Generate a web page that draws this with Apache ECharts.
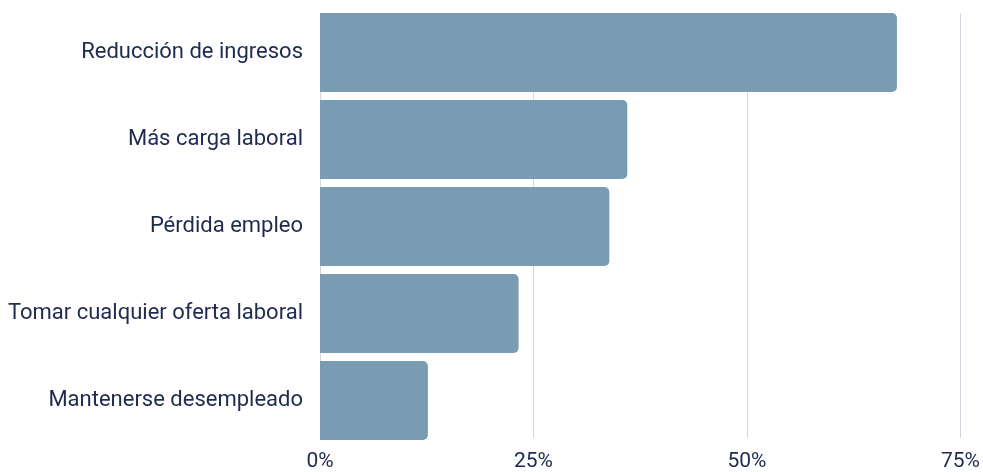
<!DOCTYPE html>
<html><head><meta charset="utf-8">
<script src="https://cdn.jsdelivr.net/npm/echarts@6/dist/echarts.min.js"></script>
<style>html,body{margin:0;padding:0;background:#fff}#c{width:983px;height:472px}</style>
</head><body><div id="c"></div>
<script>
const categories = ["Reducción de ingresos","Más carga laboral","Pérdida empleo","Tomar cualquier oferta laboral","Mantenerse desempleado"];
const values = [67.4, 35.9, 33.8, 23.2, 12.6];
const tickValues = [0, 25, 50, 75];
const txt = '#1e2b4f';
const chart = echarts.init(document.getElementById('c'));
chart.setOption({
  animation:false,
  grid:[
    {left:320,right:21,top:13,bottom:33,containLabel:false},
    {left:320,right:21,top:9,bottom:28,containLabel:false}
  ],
  xAxis:[
    {gridIndex:0,type:'value',min:0,max:75,interval:25,
      axisLine:{show:false},axisTick:{show:false},
      splitLine:{show:true,lineStyle:{color:'#d4d6e4',width:1}},
      axisLabel:{formatter:v=>v+'%',color:txt,fontFamily:'Roboto',fontSize:21,margin:13}},
    {gridIndex:1,type:'value',min:0,max:75,show:false,splitLine:{show:false}}
  ],
  yAxis:[
    {gridIndex:0,type:'category',data:categories,show:false},
    {gridIndex:1,type:'category',data:categories,inverse:true,
      axisLine:{show:false},axisTick:{show:false},splitLine:{show:false},
      axisLabel:{color:txt,fontFamily:'Roboto',fontSize:22,margin:17}}
  ],
  series:[{type:'bar',xAxisIndex:1,yAxisIndex:1,data:values,barWidth:79,
    itemStyle:{color:'#7a9cb2',borderRadius:[0,5,5,0]}}]
});
</script></body></html>
